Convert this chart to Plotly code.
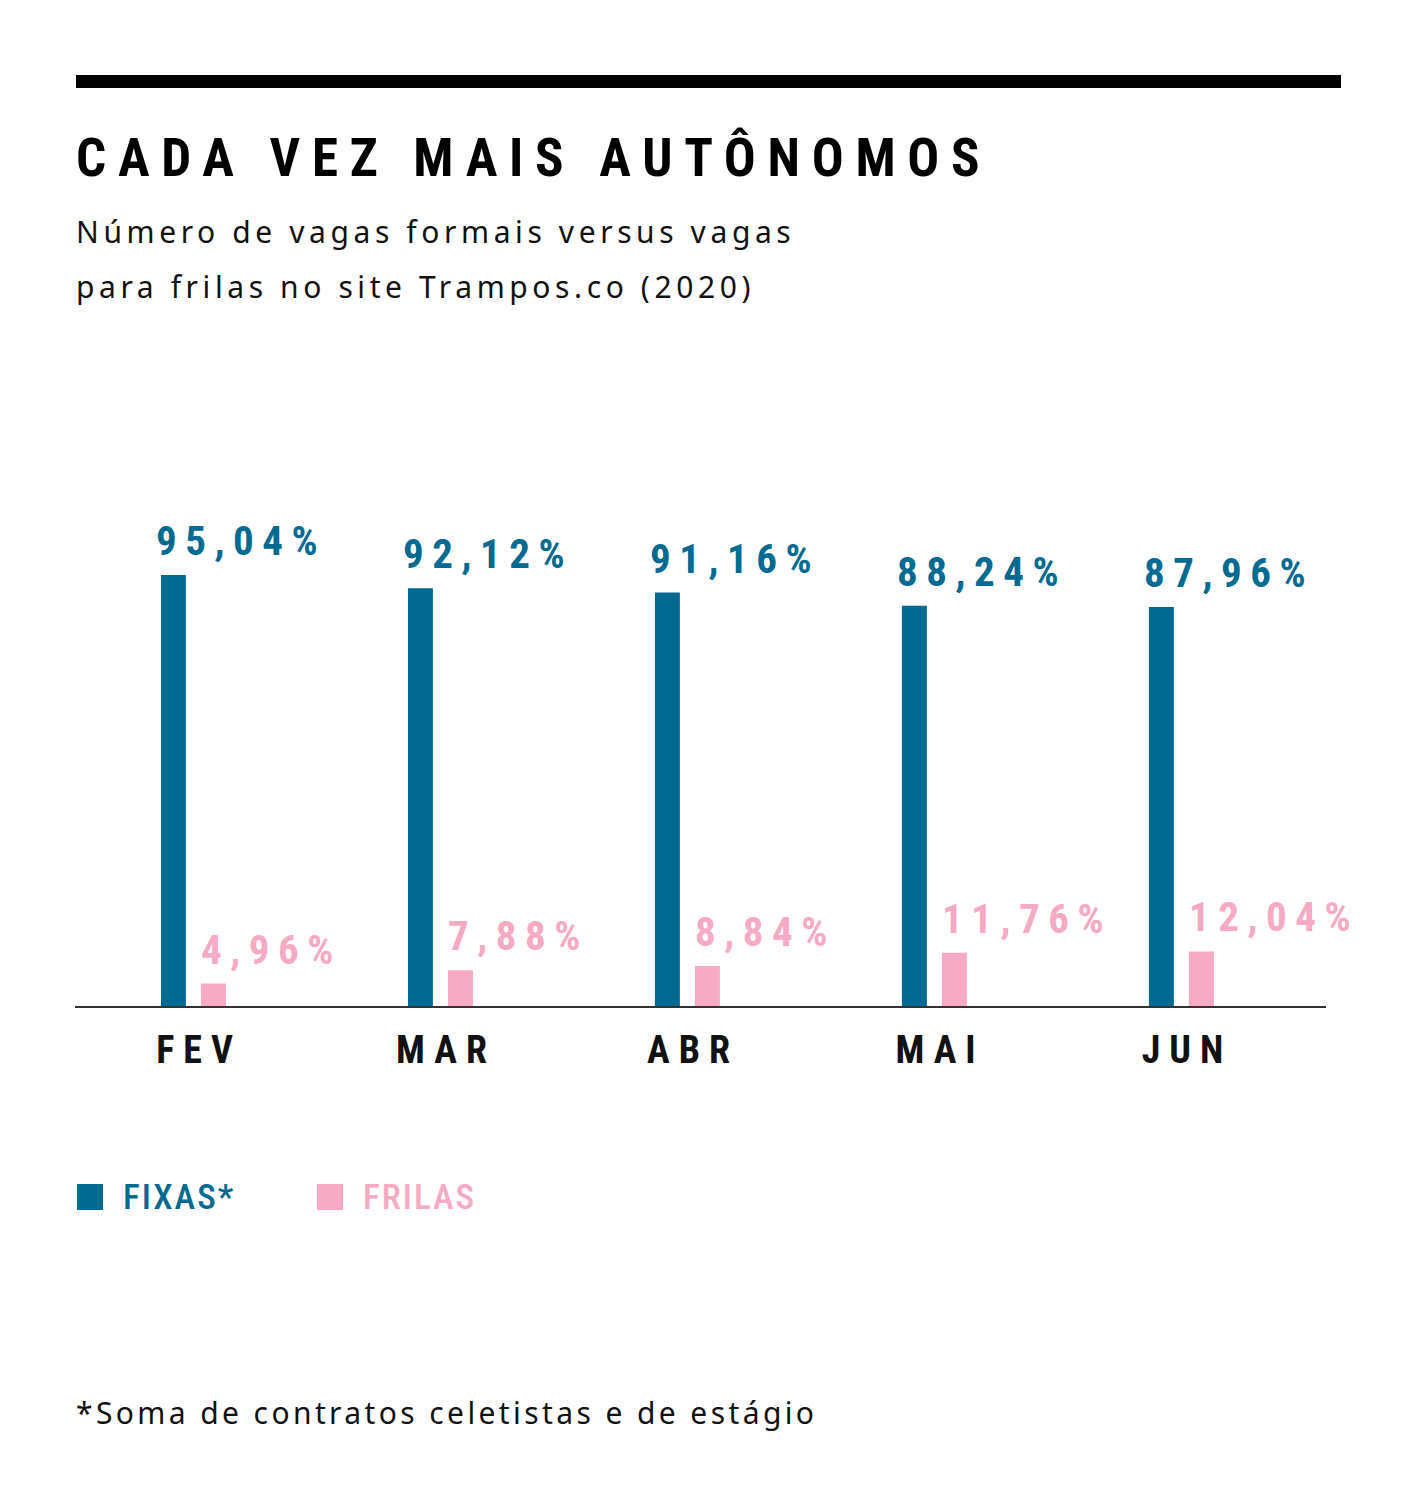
import plotly.graph_objects as go

# ---- data ----
months = ["FEV", "MAR", "ABR", "MAI", "JUN"]
fixas = [95.04, 92.12, 91.16, 88.24, 87.96]
frilas = [4.96, 7.88, 8.84, 11.76, 12.04]
fixas_labels = ["95,04%", "92,12%", "91,16%", "88,24%", "87,96%"]
frilas_labels = ["4,96%", "7,88%", "8,84%", "11,76%", "12,04%"]
series_names = ["FIXAS*", "FRILAS"]

title = "CADA VEZ MAIS AUTÔNOMOS"
subtitle1 = "Número de vagas formais versus vagas"
subtitle2 = "para frilas no site Trampos.co (2020)"
footnote = "*Soma de contratos celetistas e de estágio"

# ---- style ----
BLUE = "#006A91"
PINK = "#F6AAC3"
OFF = 8  # default page body margin
W, H = 1417 - OFF, 1511 - OFF
L, R = 75 - OFF, 1326 - OFF
T, B = 400 - OFF, 1006 - OFF
COND = "Roboto, DejaVu Sans, sans-serif"
HUMAN = "Noto Sans, Open Sans, sans-serif"


def xp(px):
    return (px - OFF - L) / (R - L)


def yp(py):
    return (B - (py - OFF)) / (B - T)


def ls(text, px, cond=True):
    st = f"letter-spacing:{px}px"
    if cond:
        st = "font-stretch:75%;" + st
    return f"<span style='{st}'>{text}</span>"


fig = go.Figure()
fig.add_bar(x=months, y=fixas, name=series_names[0], marker_color=BLUE,
            marker_line_width=0, width=0.101, offset=-0.13, showlegend=False)
fig.add_bar(x=months, y=frilas, name=series_names[1], marker_color=PINK,
            marker_line_width=0, width=0.101, offset=0.032, showlegend=False)

# value labels
for m, v, t in zip(months, fixas, fixas_labels):
    fig.add_annotation(x=m, y=v, xref="x", yref="y", text=ls(t, 8.5),
                       xanchor="left", yanchor="bottom", xshift=-39, yshift=8,
                       showarrow=False,
                       font=dict(family=COND, size=41, color=BLUE, weight=700))
for m, v, t in zip(months, frilas, frilas_labels):
    fig.add_annotation(x=m, y=v, xref="x", yref="y", text=ls(t, 8.5),
                       xanchor="left", yanchor="bottom", xshift=6, yshift=8,
                       showarrow=False,
                       font=dict(family=COND, size=41, color=PINK, weight=700))

# title block
fig.add_shape(type="rect", xref="paper", yref="paper",
              x0=xp(76), x1=xp(1341), y0=yp(88), y1=yp(75),
              fillcolor="#000000", line_width=0)
fig.add_annotation(x=xp(74), y=yp(158), xref="paper", yref="paper",
                   text=ls(title, 11.7), xanchor="left", yanchor="middle",
                   showarrow=False,
                   font=dict(family=COND, size=53, color="#000000", weight=700))
fig.add_annotation(x=xp(74), y=yp(232), xref="paper", yref="paper",
                   text=ls(subtitle1, 4.6, cond=False), xanchor="left", yanchor="middle",
                   showarrow=False,
                   font=dict(family=HUMAN, size=30, color="#111111"))
fig.add_annotation(x=xp(74), y=yp(287), xref="paper", yref="paper",
                   text=ls(subtitle2, 4.6, cond=False), xanchor="left", yanchor="middle",
                   showarrow=False,
                   font=dict(family=HUMAN, size=30, color="#111111"))

# legend
for name, col, sx in [(series_names[0], BLUE, 77), (series_names[1], PINK, 317)]:
    fig.add_shape(type="rect", xref="paper", yref="paper",
                  x0=xp(sx), x1=xp(sx + 26), y0=yp(1210), y1=yp(1184),
                  fillcolor=col, line_width=0)
    fig.add_annotation(x=xp(sx + 44), y=yp(1197), xref="paper", yref="paper",
                       text=ls(name, 2), xanchor="left", yanchor="middle",
                       showarrow=False,
                       font=dict(family=COND, size=35, color=col, weight=500))

# footnote
fig.add_annotation(x=xp(74), y=yp(1412), xref="paper", yref="paper",
                   text=ls(footnote, 3.4, cond=False), xanchor="left", yanchor="middle",
                   showarrow=False,
                   font=dict(family=HUMAN, size=30, color="#111111"))

fig.update_layout(
    width=W, height=H,
    margin=dict(l=L, r=W - R, t=T, b=H - B, pad=0),
    paper_bgcolor="#FFFFFF", plot_bgcolor="#FFFFFF",
    barmode="overlay",
    showlegend=False,
    xaxis=dict(type="category", range=[-0.478, 4.587],
               showline=True, linecolor="#333333", linewidth=2,
               showgrid=False, zeroline=False, ticks="",
               tickvals=months, ticktext=[ls(m, 9) for m in months],
               ticklabelstandoff=9, ticklabelshift=6,
               tickfont=dict(family=COND, size=38, color="#111111", weight=700)),
    yaxis=dict(range=[0, 95.04 * (B - T) / 431.0], visible=False,
               showgrid=False, zeroline=False),
)

fig.write_html("out.html")
